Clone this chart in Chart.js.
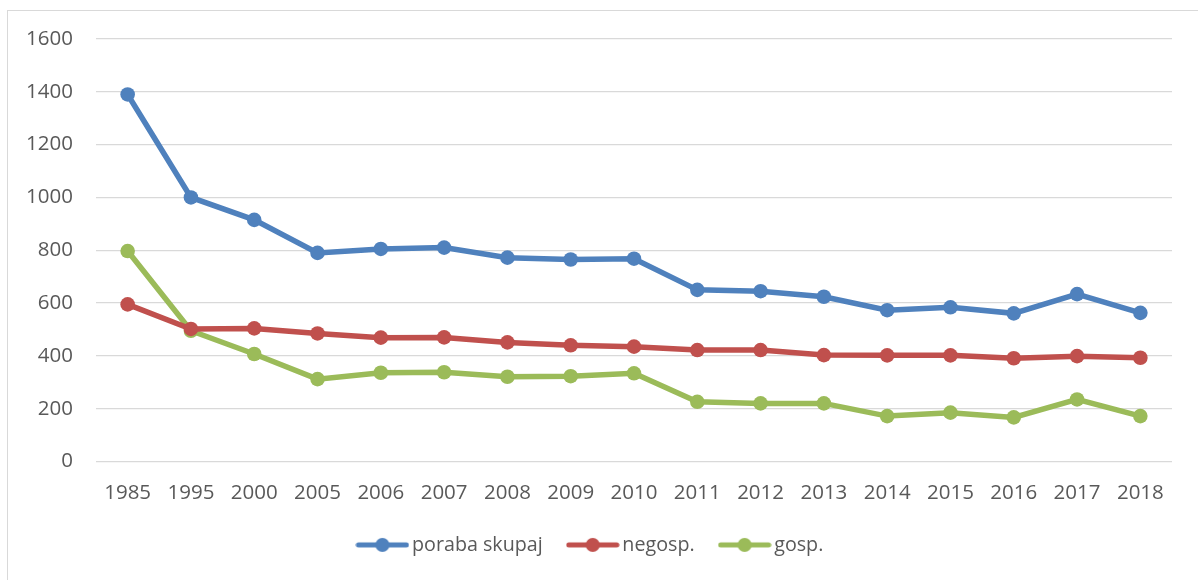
<!DOCTYPE html>
<html>
<head>
<meta charset="utf-8">
<script src="https://cdn.jsdelivr.net/npm/chart.js@4/dist/chart.umd.min.js"></script>
<style>
  html, body { margin: 0; padding: 0; background: #fff; overflow: hidden; width: 1198px; height: 580px; }
  #frame { position: absolute; left: 7px; top: 10px; width: 1400px; height: 800px; border: 1px solid #D9D9D9; box-sizing: border-box; }
  #c { position: absolute; left: 0; top: 0; }
</style>
</head>
<body>
<div id="frame"></div>
<canvas id="c" width="1198" height="580"></canvas>
<script>
const categories = ['1985','1995','2000','2005','2006','2007','2008','2009','2010','2011','2012','2013','2014','2015','2016','2017','2018'];
const porabaSkupaj = [1390, 1000, 915, 790, 805, 810, 772, 765, 768, 650, 645, 624, 573, 584, 561, 634, 563];
const negosp = [595, 502, 504, 485, 469, 470, 451, 440, 435, 422, 422, 403, 402, 402, 391, 399, 393];
const gosp = [797, 495, 407, 312, 336, 338, 321, 323, 334, 226, 220, 220, 172, 185, 167, 235, 172];
const seriesNames = ['poraba skupaj', 'negosp.', 'gosp.'];
const yTicks = [0, 200, 400, 600, 800, 1000, 1200, 1400, 1600];

const colors = ['#4F81BD', '#C0504D', '#9BBB59'];
const FONT = { family: '"Open Sans", sans-serif', size: 20.5 };
const LEGEND_FONT = { family: '"Open Sans", sans-serif', size: 19.7 };

function legendIcon(color) {
  const cv = document.createElement('canvas');
  cv.width = 54; cv.height = 16;
  const g = cv.getContext('2d');
  g.strokeStyle = color; g.lineWidth = 5; g.lineCap = 'round';
  g.beginPath(); g.moveTo(3, 8); g.lineTo(51, 8); g.stroke();
  g.fillStyle = color;
  g.beginPath(); g.arc(27, 8, 7, 0, Math.PI * 2); g.fill();
  return cv;
}
const icons = colors.map(legendIcon);

const dataArrays = [porabaSkupaj, negosp, gosp];
const datasets = dataArrays.map((d, i) => ({
  label: seriesNames[i],
  data: d,
  borderColor: colors[i],
  backgroundColor: colors[i],
  borderWidth: 5.5,
  pointRadius: 7.3,
  pointBorderWidth: 0,
  pointBackgroundColor: colors[i],
  pointStyle: 'circle',
  tension: 0,
  fill: false
}));

new Chart(document.getElementById('c'), {
  type: 'line',
  data: { labels: categories, datasets },
  options: {
    responsive: false,
    animation: false,
    devicePixelRatio: 1,
    layout: { padding: { left: 14, right: 26, top: 39, bottom: 15.25 } },
    plugins: {
      tooltip: { enabled: false },
      legend: {
        position: 'bottom',
        labels: {
          font: LEGEND_FONT,
          color: '#595959',
          usePointStyle: true,
          pointStyleWidth: 39.5,
          padding: 30.25,
          generateLabels: (chart) => chart.data.datasets.map((ds, i) => ({
            text: ds.label,
            fillStyle: colors[i],
            strokeStyle: colors[i],
            lineWidth: 0,
            pointStyle: icons[i],
            fontColor: '#595959',
            datasetIndex: i,
            hidden: false
          }))
        }
      }
    },
    scales: {
      x: {
        offset: true,
        afterFit: (scale) => { scale.height = 43.3; },
        grid: { display: false, drawTicks: false },
        border: { display: false },
        ticks: { font: FONT, color: '#595959', padding: 19.5, maxRotation: 0, autoSkip: false }
      },
      y: {
        min: 0, max: 1600,
        afterBuildTicks: (scale) => { scale.ticks = yTicks.map(v => ({ value: v })); },
        afterFit: (scale) => { scale.width = 82; },
        grid: { color: '#D9D9D9', lineWidth: 1.3, drawTicks: false },
        border: { display: false },
        ticks: { font: FONT, color: '#595959', padding: 23, callback: (v) => String(v) }
      }
    }
  }
});
</script>
</body>
</html>
